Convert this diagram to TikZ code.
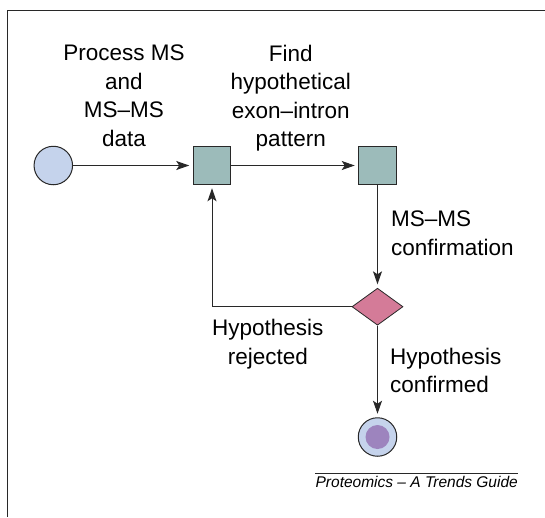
\documentclass[tikz,border=0pt]{standalone}
\usepackage{fontspec}
\setmainfont{Liberation Sans}
\usetikzlibrary{arrows.meta,shapes.geometric}
\usepackage{xcolor}
\definecolor{startblue}{RGB}{197,211,236}
\definecolor{taskgreen}{RGB}{156,187,186}
\definecolor{choicepink}{RGB}{212,123,152}
\definecolor{stoppurple}{RGB}{157,132,190}
\definecolor{linegrey}{RGB}{40,40,40}

\begin{document}
\begin{tikzpicture}[x=1pt,y=-1pt]
\tikzset{align=center,
	font=\fontsize{22.5}{28.5}\selectfont,auto}
\tikzset{start/.style = {shape=circle,draw=linegrey,fill=startblue,line width=1pt,inner sep=0pt,minimum size=38.5pt}}
\tikzset{task/.style = {shape=rectangle,draw=linegrey,fill=taskgreen,line width=1pt,inner sep=0pt,minimum size=37.5pt}}
\tikzset{choice/.style = {shape=diamond,draw=linegrey,fill=choicepink,line width=0.8pt,inner sep=0pt,minimum width=51pt,minimum height=37pt}}
\tikzset{stop/.style = {start,path picture={\fill[stoppurple] (path picture bounding box.center) circle (12pt);}}}
\tikzset{label/.style = {inner sep=0pt}}
\tikzset{edge/.style = {-{Stealth[length=13pt,width=9pt,inset=3pt]},draw=linegrey,line width=1pt,shorten >=3.5pt}}
\useasboundingbox (0,0) rectangle (545,517);
% frame
\draw[linegrey,line width=1pt] (7.8,517) -- (7.8,10.5) -- (545,10.5);
% vertices
\node[start] (s) at (53.3,165.5) {};
\node[task] (p) at (212,165.5) {};
\node[task] (f) at (377.5,165.5) {};
\node[choice] (d) at (377.5,306.7) {};
\node[stop] (e) at (377.5,437) {};

%edges
\draw[edge] (s) -- node[label,above=18.5pt,xshift=-9pt]{Process MS\\and\\MS--MS\\data} (p);
\draw[edge] (p) -- node[label,above=13.8pt,xshift=-4pt]{Find\\hypothetical\\exon--intron\\pattern} (f);
\draw[edge] (f) -- node[label,right=13pt,pos=0.47,align=left]{MS--MS\\confirmation} (d);
\draw[edge] (d.west) -| node[label,below=12pt,pos=0.3]{Hypothesis\\rejected} (p);
\draw[edge] (d) -- node[label,right=12pt,pos=0.49,align=left]{Hypothesis\\confirmed} (e);

% source
\node[label,anchor=base east,font=\fontsize{15.5}{18}\selectfont\itshape] (src) at (518,487) {Proteomics -- A Trends Guide};
\draw[linegrey,line width=0.8pt] ([yshift=2pt]src.north west) -- ([yshift=2pt]src.north east);
\end{tikzpicture}
\end{document}
